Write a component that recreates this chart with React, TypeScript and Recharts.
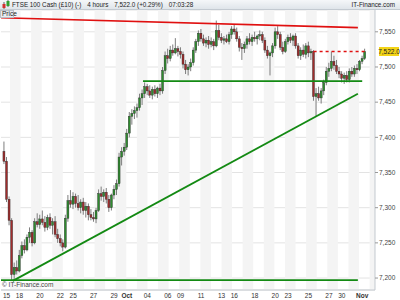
import React from "react";
import {
  ComposedChart,
  Bar,
  XAxis,
  YAxis,
  CartesianGrid,
  ReferenceLine,
  ReferenceArea,
} from "recharts";

// 4-hour candles, FTSE 100 cash, 14 Sep -> 1 Nov
const opens = [
  7380, 7366, 7312, 7282, 7205, 7215, 7210, 7232, 7246, 7240, 7258, 7265, 7250, 7280, 7276, 7284, 7279, 7272, 7286, 7275,
  7280, 7262, 7256, 7250, 7244, 7285, 7310, 7305, 7316, 7306, 7300, 7308, 7296, 7302, 7290, 7286, 7284, 7296, 7320, 7316,
  7322, 7312, 7300, 7318, 7326, 7334, 7372, 7380, 7386, 7406, 7430, 7434, 7438, 7442, 7456, 7462, 7472, 7466, 7460, 7468,
  7462, 7470, 7466, 7495, 7516, 7512, 7524, 7520, 7526, 7522, 7518, 7504, 7496, 7500, 7506, 7524, 7536, 7548, 7540, 7534,
  7538, 7532, 7536, 7530, 7552, 7542, 7538, 7540, 7536, 7546, 7554, 7550, 7540, 7528, 7526, 7532, 7540, 7536, 7542, 7540,
  7544, 7546, 7538, 7524, 7516, 7520, 7530, 7550, 7546, 7528, 7522, 7536, 7542, 7538, 7544, 7530, 7516, 7524, 7518, 7530,
  7520, 7522, 7458, 7462, 7456, 7466, 7478, 7494, 7498, 7508, 7502, 7494, 7490, 7484, 7488, 7482, 7494, 7490, 7498, 7496,
  7508, 7512,
];
const highs = [
  7394, 7372, 7316, 7285, 7222, 7225, 7240, 7252, 7255, 7262, 7272, 7268, 7285, 7292, 7290, 7296, 7288, 7290, 7292, 7285,
  7288, 7270, 7262, 7255, 7290, 7318, 7325, 7322, 7320, 7318, 7312, 7314, 7308, 7306, 7298, 7294, 7300, 7326, 7330, 7326,
  7328, 7318, 7320, 7332, 7340, 7378, 7386, 7392, 7412, 7436, 7440, 7444, 7448, 7462, 7468, 7478, 7476, 7474, 7472, 7474,
  7472, 7476, 7500, 7522, 7526, 7530, 7532, 7541, 7530, 7528, 7522, 7510, 7504, 7512, 7528, 7540, 7552, 7554, 7546, 7542,
  7544, 7542, 7540, 7566, 7560, 7548, 7544, 7546, 7550, 7558, 7560, 7556, 7544, 7534, 7536, 7544, 7548, 7546, 7550, 7546,
  7552, 7550, 7542, 7530, 7522, 7534, 7556, 7558, 7550, 7536, 7540, 7546, 7548, 7546, 7548, 7534, 7528, 7532, 7534, 7536,
  7526, 7524, 7470, 7472, 7470, 7482, 7500, 7506, 7522, 7516, 7510, 7500, 7494, 7492, 7494, 7498, 7500, 7502, 7504, 7510,
  7516, 7526,
];
const lows = [
  7362, 7308, 7275, 7196, 7198, 7205, 7208, 7228, 7235, 7238, 7250, 7245, 7248, 7272, 7270, 7275, 7266, 7268, 7270, 7262,
  7258, 7250, 7245, 7238, 7242, 7280, 7300, 7298, 7300, 7296, 7292, 7290, 7286, 7282, 7282, 7280, 7278, 7294, 7310, 7308,
  7306, 7294, 7296, 7312, 7318, 7330, 7360, 7374, 7382, 7400, 7418, 7426, 7428, 7438, 7446, 7456, 7460, 7456, 7454, 7458,
  7456, 7460, 7462, 7490, 7505, 7508, 7516, 7518, 7515, 7512, 7498, 7490, 7488, 7494, 7502, 7520, 7530, 7536, 7530, 7528,
  7526, 7528, 7524, 7528, 7538, 7534, 7532, 7534, 7532, 7540, 7546, 7536, 7522, 7510, 7520, 7526, 7532, 7530, 7536, 7532,
  7538, 7534, 7520, 7512, 7488, 7514, 7526, 7540, 7524, 7518, 7520, 7532, 7534, 7530, 7526, 7512, 7510, 7514, 7512, 7514,
  7510, 7452, 7430, 7452, 7448, 7460, 7474, 7486, 7494, 7496, 7490, 7484, 7478, 7476, 7478, 7478, 7486, 7486, 7490, 7494,
  7504, 7510,
];
const closes = [
  7366, 7312, 7282, 7205, 7215, 7210, 7232, 7246, 7240, 7258, 7265, 7250, 7280, 7276, 7284, 7279, 7272, 7286, 7275, 7280,
  7262, 7256, 7250, 7244, 7285, 7310, 7305, 7316, 7306, 7300, 7308, 7296, 7302, 7290, 7286, 7284, 7296, 7320, 7316, 7322,
  7312, 7300, 7318, 7326, 7334, 7372, 7380, 7386, 7406, 7430, 7434, 7438, 7442, 7456, 7462, 7472, 7466, 7460, 7468, 7462,
  7470, 7466, 7495, 7516, 7512, 7524, 7520, 7526, 7522, 7518, 7504, 7496, 7500, 7506, 7524, 7536, 7548, 7540, 7534, 7538,
  7532, 7536, 7530, 7552, 7542, 7538, 7540, 7536, 7546, 7554, 7550, 7540, 7528, 7526, 7532, 7540, 7536, 7542, 7540, 7544,
  7546, 7538, 7524, 7516, 7520, 7530, 7550, 7546, 7528, 7522, 7536, 7542, 7538, 7544, 7530, 7516, 7524, 7518, 7530, 7520,
  7522, 7458, 7462, 7456, 7466, 7478, 7494, 7498, 7508, 7502, 7494, 7490, 7484, 7488, 7482, 7494, 7490, 7498, 7496, 7508,
  7512, 7522,
];

const tickIdx = [1, 6, 14, 22, 27, 35, 43, 48, 56, 64, 69, 77, 85, 90, 98, 106, 111, 119, 127, 132, 140];
const tickLabels = ["15", "18", "20", "22", "25", "27", "29", "Oct", "04", "06", "09", "11", "13", "16", "18", "20", "23", "25", "27", "30", "Nov"];
const priceTicks = [7200, 7250, 7300, 7350, 7400, 7450, 7500, 7550];

const lastPrice = 7522;
const resistance = [{ x: -1.2, y: 7570 }, { x: 138.3, y: 7556 }];
const rising = [{ x: 3.4, y: 7196 }, { x: 138.3, y: 7462 }];
const floorLine = [{ x: -1.2, y: 7197 }, { x: 138.3, y: 7197 }];
const shelfLine = [{ x: 54.3, y: 7480 }, { x: 140, y: 7480 }];
const lastLine = [{ x: 121, y: lastPrice }, { x: 141, y: lastPrice }];

const data = opens.map((o, i) => ({
  i,
  open: o,
  high: highs[i],
  low: lows[i],
  close: closes[i],
  range: [lows[i], highs[i]],
}));

const stripes: number[][] = [];
for (let s = 2.3; s < 145; s += 8.27) stripes.push([s, Math.min(s + 4.13, 145)]);

const font = "'Liberation Sans', Arial, sans-serif";

function Candle(props: any) {
  let { x, y, width, height, payload } = props;
  if (height < 0) {
    y = y + height;
    height = -height;
  }
  const { open, close, high, low } = payload;
  const cx = x + width / 2;
  const k = height / (high - low || 1);
  const yO = y + (high - open) * k;
  const yC = y + (high - close) * k;
  const top = Math.min(yO, yC);
  const h = Math.max(1, Math.abs(yO - yC));
  const up = close >= open;
  return (
    <g>
      <line x1={cx} x2={cx} y1={y} y2={y + height} stroke="#7d7d7d" strokeWidth={1} />
      <rect x={cx - 1} y={top} width={2} height={h} fill={up ? "#2e8b2e" : "#a02c2c"} stroke="#2a2a2a" strokeWidth={0.4} />
    </g>
  );
}

function DateTick(props: any) {
  const { x, y, payload } = props;
  const label = tickLabels[tickIdx.indexOf(payload.value)] ?? "";
  const bold = label === "Oct" || label === "Nov";
  return (
    <text x={x} y={y + 7.5} textAnchor="middle" fontSize={6.5} fontFamily={font} fill="#333" fontWeight={bold ? "bold" : "normal"}>
      {label}
    </text>
  );
}

function PriceTag(props: any) {
  const vb = props.viewBox || {};
  const x = vb.x + vb.width + 4;
  const y = vb.y;
  return (
    <g>
      <rect x={x} y={y - 4.5} width={20} height={9} fill="#f3d417" />
      <text x={x + 10} y={y + 2.3} textAnchor="middle" fontSize={6.5} fontFamily={font} fill="#222">
        {lastPrice.toLocaleString("en-US", { minimumFractionDigits: 1 })}
      </text>
    </g>
  );
}

export default function App() {
  return (
    <div style={{ position: "fixed", left: 0, top: 0, width: 400, height: 300, background: "#fff", fontFamily: font }}>
      <ComposedChart width={400} height={300} data={data} margin={{ top: 10, right: 0, bottom: 0, left: 1 }}>
        {stripes.map(([a, b], k) => (
          <ReferenceArea key={k} x1={a} x2={b} fill="#f4f4f4" fillOpacity={1} stroke="none" ifOverflow="hidden" />
        ))}
        <CartesianGrid vertical={false} stroke="#e3e3e3" />
        <XAxis
          dataKey="i"
          type="number"
          domain={[-1.2, 145]}
          allowDataOverflow
          ticks={tickIdx}
          tick={<DateTick />}
          tickLine={false}
          tickSize={0}
          tickMargin={0}
          axisLine={{ stroke: "#c3c9cf" }}
          height={10}
          interval={0}
        />
        <YAxis
          orientation="right"
          domain={[7183, 7581]}
          allowDataOverflow
          ticks={priceTicks}
          tickFormatter={(v: number) => v.toLocaleString("en-US")}
          tick={{ fontSize: 6.5, fill: "#444", fontFamily: font }}
          tickLine={{ stroke: "#999" }}
          tickSize={3}
          tickMargin={1}
          axisLine={{ stroke: "#c3c9cf" }}
          width={25}
        />
        <Bar dataKey="range" shape={<Candle />} barSize={3} isAnimationActive={false} />
        <ReferenceLine segment={resistance} stroke="#e01010" strokeWidth={1.6} />
        <ReferenceLine segment={floorLine} stroke="#138a13" strokeWidth={1.8} />
        <ReferenceLine segment={rising} stroke="#138a13" strokeWidth={1.8} />
        <ReferenceLine segment={shelfLine} stroke="#138a13" strokeWidth={1.8} />
        <ReferenceLine segment={lastLine} stroke="#e01010" strokeWidth={1.4} strokeDasharray="3 3" />
        <ReferenceLine y={lastPrice} stroke="none" label={(p: any) => <PriceTag {...p} />} />
      </ComposedChart>

      <div
        style={{
          position: "absolute",
          left: 0,
          top: 0,
          width: 400,
          height: 10,
          boxSizing: "border-box",
          background: "linear-gradient(#f5f7f9, #dfe5ea)",
          borderBottom: "1px solid #c3cad1",
          fontSize: 6.3,
          lineHeight: "9px",
          color: "#222",
          whiteSpace: "nowrap",
        }}
      >
        <svg width={10} height={9} style={{ position: "absolute", left: 1, top: 0 }}>
          <line x1={3} x2={3} y1={2} y2={9} stroke="#666" />
          <rect x={1.5} y={4} width={3} height={4} fill="#d23030" />
          <line x1={7} x2={7} y1={0} y2={7} stroke="#666" />
          <rect x={5.5} y={1} width={3} height={5} fill="#2fa02f" />
        </svg>
        <div style={{ position: "absolute", left: 12, top: 0, display: "flex", gap: 6 }}>
          <span>FTSE 100 Cash (£10) (-)</span>
          <span>4 hours</span>
          <span>7,522.0 (+0.29%)</span>
          <span>07:03:28</span>
        </div>
        <span style={{ position: "absolute", right: 5, top: 0 }}>IT-Finance.com</span>
      </div>

      <div
        style={{
          position: "absolute",
          left: 0,
          top: 10,
          width: 14,
          height: 8,
          boxSizing: "border-box",
          background: "#e8ecf0",
          border: "1px solid #b9c1c8",
          fontSize: 6.5,
          lineHeight: "6px",
          color: "#222",
          paddingLeft: 1,
        }}
      >
        Price
      </div>

      <div style={{ position: "absolute", left: 2, top: 281, fontSize: 6.5, color: "#444" }}>© IT-Finance.com</div>
    </div>
  );
}
